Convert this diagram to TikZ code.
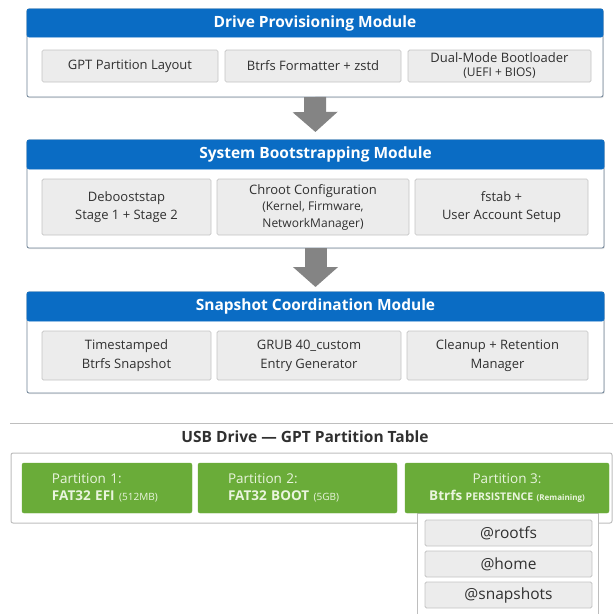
\documentclass[tikz,border=0pt]{standalone}
\usepackage{fontspec}
\setmainfont{Open Sans}
\usetikzlibrary{arrows.meta,shadows}
\definecolor{hdrblue}{RGB}{10,108,196}
\definecolor{modborder}{RGB}{110,130,150}
\definecolor{cellfill}{RGB}{236,236,236}
\definecolor{cellborder}{RGB}{196,196,196}
\definecolor{txtdark}{RGB}{48,48,48}
\definecolor{arrowgray}{RGB}{132,132,132}
\definecolor{partgreen}{RGB}{106,172,57}
\definecolor{parttxt}{RGB}{234,245,222}
\definecolor{linegray}{RGB}{190,190,190}
\begin{document}
\begin{tikzpicture}[x=1pt,y=-1pt,
  module/.style={draw=modborder,line width=0.8pt,fill=white,rounded corners=2pt,inner sep=0pt,outer sep=0pt,
    drop shadow={opacity=0.18,shadow xshift=0.8pt,shadow yshift=-1.2pt}},
  header/.style={fill=hdrblue,draw=hdrblue,line width=0.6pt,rounded corners=2pt,inner sep=0pt,outer sep=0pt,
    text=white,font=\fontsize{15.5}{18}\selectfont\bfseries},
  cell/.style={fill=cellfill,draw=cellborder,line width=0.7pt,rounded corners=1.5pt,inner sep=0pt,outer sep=0pt,
    text=txtdark,align=center,font=\fontsize{13}{18}\selectfont},
  bigarrow/.style={draw=arrowgray,line width=22pt,line cap=butt,-{Triangle[width=44pt,length=20pt]}},
  part/.style={fill=partgreen,draw=partgreen,rounded corners=2pt,inner sep=0pt,outer sep=0pt,
    text=parttxt,font=\fontsize{13.5}{17}\selectfont},
  partleft/.style={part,align=left,inner xsep=30pt},
  subcell/.style={fill=cellfill,draw=cellborder,line width=0.8pt,rounded corners=1.5pt,inner sep=0pt,outer sep=0pt,
    text=txtdark,font=\fontsize{15.5}{18}\selectfont},
  drivebox/.style={draw=linegray,line width=1pt,fill=white,rounded corners=2pt,inner sep=0pt,outer sep=0pt},
  subbox/.style={draw=linegray,line width=1pt,fill=white,inner sep=0pt,outer sep=0pt}
]
\useasboundingbox (0,0) rectangle (613,614);
\fill[white] (0,0) rectangle (613,614);

% ---------- Module 1 ----------
\node[module,minimum width=576pt,minimum height=88pt] (m1) at (315,53) {};
\node[header,minimum width=576pt,minimum height=28pt] (h1) at (315,23) {Drive Provisioning Module};
\node[cell,minimum width=176pt,minimum height=32pt] (c11) at (130,66) {GPT Partition Layout};
\node[cell,minimum width=176pt,minimum height=32pt] (c12) at (313,66) {Btrfs Formatter + zstd};
\node[cell,minimum width=183pt,minimum height=32pt,font=\fontsize{13}{14}\selectfont] (c13) at (499.5,66) {Dual-Mode Bootloader\\{\fontsize{12}{14}\selectfont(UEFI + BIOS)}};

% ---------- Module 2 ----------
\node[module,minimum width=577pt,minimum height=108pt] (m2) at (315.5,194) {};
\node[header,minimum width=577pt,minimum height=29pt] (h2) at (315.5,154.5) {System Bootstrapping Module};
\node[cell,minimum width=169pt,minimum height=56pt] (c21) at (126.5,207) {Debooststap\\Stage 1 + Stage 2};
\node[cell,minimum width=192pt,minimum height=56pt,font=\fontsize{13}{16.5}\selectfont] (c22) at (313,207) {Chroot Configuration\\{\fontsize{12}{16.5}\selectfont(Kernel, Firmware,}\\{\fontsize{12}{16.5}\selectfont NetworkManager)}};
\node[cell,minimum width=173pt,minimum height=56pt] (c23) at (501.5,207) {fstab +\\User Account Setup};

% ---------- Module 3 ----------
\node[module,minimum width=577pt,minimum height=101pt] (m3) at (315.5,342.5) {};
\node[header,minimum width=577pt,minimum height=29pt] (h3) at (315.5,306.5) {Snapshot Coordination Module};
\node[cell,minimum width=169pt,minimum height=49pt,font=\fontsize{13}{19}\selectfont] (c31) at (126.5,355.5) {Timestamped\\Btrfs Snapshot};
\node[cell,minimum width=184pt,minimum height=49pt,font=\fontsize{13}{19}\selectfont] (c32) at (309,355.5) {GRUB 40\_custom\\Entry Generator};
\node[cell,minimum width=181pt,minimum height=49pt,font=\fontsize{13}{19}\selectfont] (c33) at (497.5,355.5) {Cleanup + Retention\\Manager};

% ---------- Arrows ----------
\draw[bigarrow,shorten >=8pt] (m1.south) -- (m2.north);
\draw[bigarrow,shorten >=5pt] (m2.south) -- (m3.north);

% ---------- Partition table ----------
\coordinate (sepL) at (10,423);
\coordinate (sepR) at (613,423);
\draw[draw=linegray,line width=1pt] (sepL) -- (sepR);
\node[text=txtdark,font=\fontsize{15.5}{18}\selectfont\bfseries,inner sep=0pt] (title) at (305,437) {USB Drive — GPT Partition Table};

\node[drivebox,minimum width=601pt,minimum height=70pt] (drive) at (311.5,488) {};
\node[subbox,minimum width=181pt,minimum height=112pt] (subc) at (507.5,569) {};

\node[partleft,text width=110pt,minimum height=50pt] (p1) at (107,488)
  {Partition 1:\\\textbf{FAT32 EFI} {\fontsize{10}{17}\selectfont(512MB)}};
\node[partleft,text width=139pt,minimum height=50pt] (p2) at (297.5,488)
  {Partition 2:\\\textbf{FAT32 BOOT} {\fontsize{10}{17}\selectfont(5GB)}};
\node[part,align=center,minimum width=204pt,minimum height=50pt] (p3) at (507,488)
  {Partition 3:\\\textbf{Btrfs} {\fontsize{10.5}{17}\selectfont\textbf{PERSISTENCE}} {\fontsize{8}{17}\selectfont\textbf{(Remaining)}}};

\node[subcell,minimum width=167pt,minimum height=26pt] (s1) at (508.5,533) {@rootfs};
\node[subcell,minimum width=167pt,minimum height=26pt] (s2) at (508.5,564) {@home};
\node[subcell,minimum width=167pt,minimum height=26pt] (s3) at (508.5,595) {@snapshots};
\end{tikzpicture}
\end{document}
